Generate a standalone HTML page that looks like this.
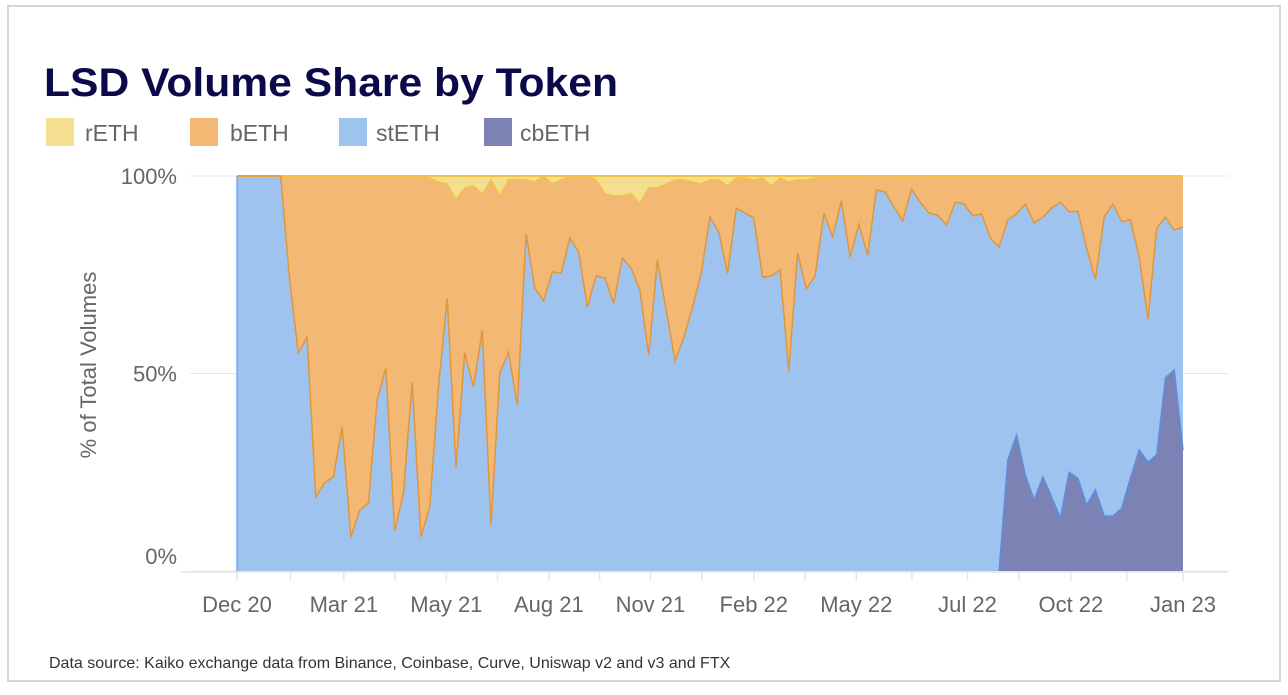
<!DOCTYPE html>
<html><head><meta charset="utf-8">
<style>
html,body{margin:0;padding:0;background:#fff;}
body{width:1288px;height:690px;overflow:hidden;font-family:"Liberation Sans",sans-serif;}
</style></head>
<body>
<svg id="chart" width="1288" height="690" xmlns="http://www.w3.org/2000/svg" font-family="Liberation Sans, sans-serif">
  <rect x="8" y="6" width="1272" height="675" fill="#fff" stroke="#d6d6d6" stroke-width="2"/>
  <text x="44" y="96" font-size="40" font-weight="bold" fill="#0a0a4a" textLength="574" lengthAdjust="spacingAndGlyphs">LSD Volume Share by Token</text>
  <g>
    <g><rect x="46" y="118" width="28" height="28" fill="#f3df8f"/><text x="85" y="141" font-size="23" fill="#666">rETH</text></g>
    <g><rect x="190" y="118" width="28" height="28" fill="#f2b874"/><text x="230" y="141" font-size="23" fill="#666">bETH</text></g>
    <g><rect x="339" y="118" width="28" height="28" fill="#9ec3ee"/><text x="376" y="141" font-size="23" fill="#666">stETH</text></g>
    <g><rect x="484" y="118" width="28" height="28" fill="#7c83b4"/><text x="520" y="141" font-size="23" fill="#666">cbETH</text></g>
  </g>
  <text transform="translate(96,365) rotate(-90)" text-anchor="middle" font-size="22" fill="#666">% of Total Volumes</text>
  <g id="grid"></g>
  <g id="areas"></g>
  <g id="xaxis"></g>
  <text x="49" y="668" font-size="16" fill="#333">Data source: Kaiko exchange data from Binance, Coinbase, Curve, Uniswap v2 and v3 and FTX</text>
</svg>
<script>
// stETH + cbETH combined share is not stored; each series share is stored separately
const cbeth = [0,0,0,0,0,0,0,0,0,0,0,0,0,0,0,0,0,0,0,0,0,0,0,0,0,0,0,0,0,0,0,0,0,0,0,0,0,0,0,0,0,0,0,0,0,0,0,0,0,0,0,0,0,0,0,0,0,0,0,0,0,0,0,0,0,0,0,0,0,0,0,0,0,0,0,0,0,0,0,0,0,0,0,0,0,0,0,
 0,28.1,34.4,24.3,18,23.8,18.7,13.4,25,23.5,16.7,20.5,13.9,13.9,15.9,23.5,30.6,27.6,29.4,48.9,50.9,30.6];
const steth = [100,100,100,100,100,100,
 73.7,55.2,59.2,18.7,22.3,23.8,36.5,8.6,15.4,17.2,
 43.3,51.4,10.1,19.7,47.8,8.6,16.2,46.6,69.1,26.3,
 55.2,46.6,61,11.6,50.1,55.4,42,85.3,71.6,68.4,
 75.7,75.4,84.3,80.8,66.8,74.7,74.2,67.8,79.2,76.7,
 71.1,54.7,78.7,66.1,53.2,59,66.8,75.4,
 89.6,85.8,75.4,91.9,90.6,89.4,74.4,74.7,76.2,50.6,
 80.5,71.4,74.7,90.6,84.6,93.7,79.5,87.8,80,96.5,
 95.9,92.2,88.6,96.7,93.4,90.6,90.1,87.6,93.4,92.9,
 89.9,90.4,84.3,
 82,60.8,56,68.6,70.1,65.8,73.2,80,65.9,67.6,65.1,53.4,75.7,79,72.5,65.4,48.9,36.2,57.4,40.7,35.4,56.5];
const reth = [0,0,0,0,0,0,0,0,0,0,0,0,0,0,0,0,0,0,0,0,0,0,
 0.5,1.5,2,6,3,2.5,4.5,1,5,1,0.8,1,1.5,0,2,1,0,0,0,1,4.5,5,5,4.5,7,3,3,2,1,1,1.5,2,1,1,2.5,0.5,0.5,1,0.5,2.5,0.5,1.5,1,1,0.5,
 0.3,0.3,0.3,0.3,0.3,0.3,0.3,0.3,0,0,0,0,0.3,0,0,0,0,0,0,0,0,0,0,0,0,0,0,0,0,0,0,0,0,0,0,0,0,0,0,0,0,0,0,0];
const tickLabels = ["Dec 20","Mar 21","May 21","Aug 21","Nov 21","Feb 22","May 22","Jul 22","Oct 22","Jan 23"];
const tickIndex = [0,12.2,23.9,35.6,47.2,59,70.7,83.4,95.2,108];
const yTicks = [0,50,100];
const yTickLabels = ["0%","50%","100%"];

const NS = "http://www.w3.org/2000/svg";
const N = steth.length;
const X0 = 237, X1 = 1183, Y0 = 571, Y100 = 176;
function xs(i){ return X0 + (X1 - X0) * i / (N - 1); }
function ys(v){ return Y0 - (Y0 - Y100) * v / 100; }
function mk(tag, attrs, parent){
  const e = document.createElementNS(NS, tag);
  for (const k in attrs) e.setAttribute(k, attrs[k]);
  parent.appendChild(e); return e;
}
const grid = document.getElementById('grid');
yTicks.forEach((v, k) => {
  const l = mk('line', {x1:190, x2:1228, y1:ys(v), y2:ys(v), stroke:'#e8e8e8', 'stroke-width':1}, grid);
  
  
  const t = mk('text', {x:177, y:ys(v) + (v === 0 ? -7 : 8), 'text-anchor':'end', 'font-size':22, fill:'#666'}, grid);
  t.textContent = yTickLabels[k];
  
  
});

// stacked tops
const topCb = [], topSt = [], topB = [], topR = [];
for (let i = 0; i < N; i++) {
  topCb.push(cbeth[i]);
  topSt.push(cbeth[i] + steth[i]);
  topB.push(Math.max(cbeth[i] + steth[i], 100 - reth[i]));
  topR.push(100);
}
function line(arr){ return arr.map((v,i)=>(i?'L':'M')+xs(i).toFixed(1)+','+ys(v).toFixed(1)).join(''); }
function band(top, bot){
  let d = line(top);
  for (let i = N - 1; i >= 0; i--) d += 'L' + xs(i).toFixed(1) + ',' + ys(bot[i]).toFixed(1);
  return d + 'Z';
}
const zero = new Array(N).fill(0);
const areas = document.getElementById('areas');
const series = [
  {name:'area-reth', top:topR, bot:topB, fill:'#f3df8f', stroke:'#f0c34a'},
  {name:'area-beth', top:topB, bot:topSt, fill:'#f2b874', stroke:'#f0c34a'},
  {name:'area-steth', top:topSt, bot:topCb, fill:'#9ec3ee', stroke:'#e0963e'},
  {name:'area-cbeth', top:topCb, bot:zero, fill:'#7c83b4', stroke:'#5b8ee0'}
];
series.forEach(s => {
  const p = mk('path', {d:band(s.top, s.bot), fill:s.fill, stroke:'none'}, areas);
  
  
});
// boundary lines
const lb = mk('path', {d:line(topB), fill:'none', stroke:'#f0c34a', 'stroke-width':1.5}, areas);


const lt = mk('path', {d:line(topR), fill:'none', stroke:'#f0c34a', 'stroke-width':2}, areas);


const ls = mk('path', {d:line(topSt), fill:'none', stroke:'#e0963e', 'stroke-width':1.5}, areas);


let cbStart = cbeth.findIndex(v => v > 0) - 1;
const cbSeg = topCb.map((v,i)=>(i===cbStart?'M':'L')+xs(i).toFixed(1)+','+ys(v).toFixed(1)).slice(cbStart).join('');
const lc = mk('path', {d:cbSeg, fill:'none', stroke:'#5b8ee0', 'stroke-width':1.5}, areas);


const le = mk('line', {x1:X0, x2:X0, y1:Y100, y2:Y0, stroke:'#7aaaf0', 'stroke-width':1.5}, areas);



const xa = document.getElementById('xaxis');
const ax = mk('line', {x1:180, x2:1228, y1:572, y2:572, stroke:'#e6e6e6', 'stroke-width':1.5}, xa);


for (let k = 0; k < tickIndex.length; k++) {
  const x = xs(tickIndex[k]);
  const tk = mk('line', {x1:x, x2:x, y1:572, y2:581, stroke:'#e6e6e6', 'stroke-width':1.5}, xa);
  
  
  if (k < tickIndex.length - 1) {
    const xm = xs((tickIndex[k] + tickIndex[k+1]) / 2);
    const tm = mk('line', {x1:xm, x2:xm, y1:572, y2:581, stroke:'#e6e6e6', 'stroke-width':1.5}, xa);
    
    
  }
  const t = mk('text', {x:x, y:612, 'text-anchor':'middle', 'font-size':22, fill:'#666'}, xa);
  t.textContent = tickLabels[k];
  
  
}
</script>
</body></html>
